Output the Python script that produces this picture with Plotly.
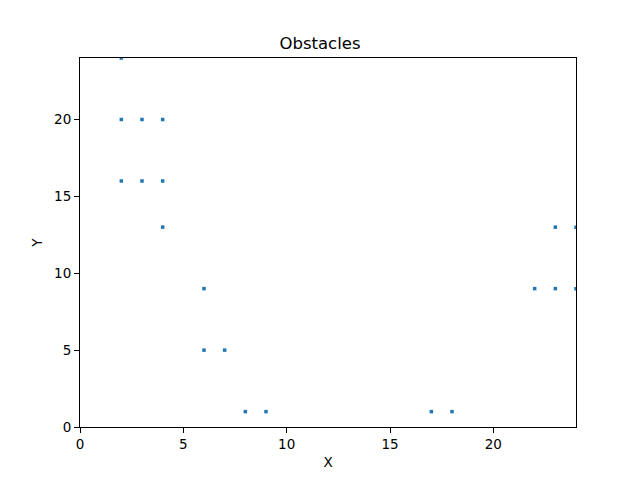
import plotly.graph_objects as go

xs = [2, 3, 4, 2, 3, 4, 4, 6, 6, 7, 8, 9, 17, 18, 22, 23, 24, 23, 24, 2]
ys = [20, 20, 20, 16, 16, 16, 13, 9, 5, 5, 1, 1, 1, 1, 9, 9, 9, 13, 13, 24]

FONT = "DejaVu Sans"

fig = go.Figure(go.Scatter(
    x=xs, y=ys, mode="markers",
    marker=dict(symbol="square", size=3.5, color="#1f77b4", line=dict(width=0)),
    cliponaxis=True,
))

axis_common = dict(
    showgrid=False, zeroline=False, showline=True, mirror=True,
    linecolor="black", linewidth=1, ticks="outside", ticklen=5,
    tickcolor="black", tickfont=dict(family=FONT, size=13.5, color="black"),
    range=[0, 24], tickvals=[0, 5, 10, 15, 20],
)

fig.update_layout(
    width=640, height=480,
    margin=dict(l=80, r=64, t=58, b=53),
    plot_bgcolor="white", paper_bgcolor="white",
    title=dict(text="Obstacles", x=0.5, xanchor="center", y=1 - 43 / 480, yanchor="middle",
               font=dict(family=FONT, size=16.5, color="black")),
    xaxis=dict(**axis_common, title=dict(text="X", font=dict(family=FONT, size=13.5, color="black"), standoff=6)),
    yaxis=dict(**axis_common, title=dict(text="Y", font=dict(family=FONT, size=13.5, color="black"), standoff=8)),
    showlegend=False,
)

fig.write_html("out.html", config={"displayModeBar": False},
               post_script="document.body.style.margin='0';document.body.style.padding='0';")
